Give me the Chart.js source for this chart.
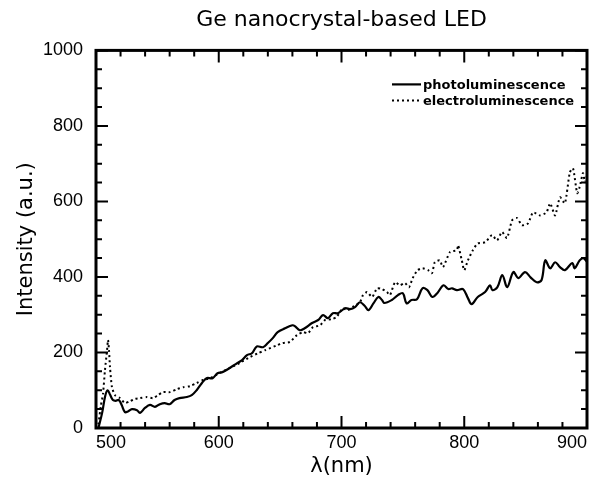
<!DOCTYPE html>
<html>
<head>
<meta charset="utf-8">
<script src="https://cdn.jsdelivr.net/npm/chart.js@4/dist/chart.umd.min.js"></script>
<style>
  html, body { margin: 0; padding: 0; background: #fff; }
</style>
</head>
<body>
<canvas id="ledChart" width="592" height="479"></canvas>
<script>
// wavelength (nm) / intensity (a.u.)
const plWavelength = [502, 505, 507.5, 509.5, 511.5, 513.8, 516, 518.7, 521, 523.6, 526, 529.3, 533.4, 535.8, 539.9, 544, 548, 552, 556, 560, 564, 568, 574, 578, 582, 586, 590, 595, 599, 603, 609, 615, 619, 623, 627, 631, 636, 640, 644, 648, 654, 660, 662, 666, 670, 676, 681, 685, 689, 693, 697, 703, 707, 711, 715, 719, 722, 726, 730, 733, 735, 741, 746, 750, 753, 757, 761.5, 766, 770, 774, 778, 783, 787, 790, 794, 799, 803, 806, 811, 817, 821, 823, 827, 831, 835, 840, 844, 849.5, 854, 859, 863, 866, 870, 874, 878, 882, 888, 890, 894, 897, 900]
const plIntensity  = [0, 40, 85, 100, 88, 74, 72, 74, 60, 42, 44, 50, 47, 40, 53, 61, 56, 63, 66, 63, 74, 79, 82, 87, 100, 118, 132, 132, 145, 148, 159, 172, 180, 193, 198, 216, 214, 225, 238, 254, 264, 272, 270, 259, 264, 278, 286, 299, 291, 304, 304, 317, 315, 320, 333, 323, 312, 330, 347, 339, 331, 339, 352, 357, 330, 339, 341, 370, 365, 347, 357, 378, 368, 370, 365, 368, 344, 328, 347, 360, 378, 365, 373, 405, 373, 413, 397, 413, 399, 386, 392, 444, 423, 439, 426, 418, 437, 423, 444, 450, 440]

const elWavelength = [502, 504, 505.7, 507.3, 509, 509.8, 510.6, 511.4, 513, 515.5, 519.6, 523.6, 527.7, 531.8, 535.8, 541.5, 546.4, 550.5, 554.6, 560.3, 566, 571, 576.6, 582, 587, 593, 601, 609, 617, 625.5, 632, 637.7, 647.5, 652, 658, 663.7, 668.6, 672.7, 676.8, 682.5, 686.6, 692, 696, 701, 705, 709, 715, 717.5, 720.8, 725, 729, 733, 737, 739.5, 743.6, 747.6, 751.7, 755, 758, 762, 766, 770.5, 773.7, 776, 780, 782.7, 788.4, 794, 795, 798, 800, 803, 807, 811, 817, 822.6, 826.7, 830.8, 834.8, 839, 843, 847, 852, 856, 861.7, 867, 870, 874, 878, 882, 886, 888.6, 892, 894, 896.7, 898.4, 900]
const elIntensity  = [10, 60, 90, 153, 206, 233, 206, 161, 108, 87, 79, 66, 71, 77, 79, 82, 79, 87, 95, 95, 103, 108, 111, 119, 127, 132, 146, 159, 172, 188, 198, 206, 219, 225, 228, 246, 254, 251, 267, 272, 286, 288, 294, 317, 312, 320, 333, 352, 360, 347, 370, 368, 360, 352, 386, 378, 384, 373, 397, 418, 423, 418, 410, 439, 444, 426, 466, 471, 484, 444, 418, 444, 471, 489, 492, 511, 497, 519, 503, 550, 556, 537, 542, 571, 563, 571, 595, 563, 611, 595, 677, 688, 622, 638, 675, 651, 668]

const xMin = 500, xMax = 900, xMinorStep = 20, xMajorStep = 100
const yMin = 0, yMax = 1000, yMinorStep = 50, yMajorStep = 200

const toPoints = (xs, ys) => xs.map((v, i) => ({ x: v, y: ys[i] }))

// inward ticks on all four sides, the heavy frame and the legend
const frameTicks = {
  id: 'frameTicks',
  afterDatasetsDraw(chart) {
    const { ctx, chartArea: a, scales: { x, y } } = chart
    ctx.save()
    ctx.strokeStyle = '#000'
    ctx.lineWidth = 2
    ctx.beginPath()
    for (let v = xMin; v <= xMax; v += xMinorStep) {
      const px = x.getPixelForValue(v)
      const len = v % xMajorStep === 0 ? 12 : 6
      ctx.moveTo(px, a.bottom); ctx.lineTo(px, a.bottom - len)
      ctx.moveTo(px, a.top); ctx.lineTo(px, a.top + len)
    }
    for (let v = yMin; v <= yMax; v += yMinorStep) {
      const py = y.getPixelForValue(v)
      const len = v % yMajorStep === 0 ? 12 : 6
      ctx.moveTo(a.left, py); ctx.lineTo(a.left + len, py)
      ctx.moveTo(a.right, py); ctx.lineTo(a.right - len, py)
    }
    ctx.stroke()
    ctx.lineWidth = 3
    ctx.strokeRect(a.left, a.top, a.right - a.left, a.bottom - a.top)

    // legend
    ctx.font = 'bold 13px "DejaVu Sans"'
    ctx.textBaseline = 'middle'
    ctx.fillStyle = '#000'
    chart.data.datasets.forEach((ds, i) => {
      const ly = a.top + 34 + i * 16
      const lx = a.right - 195
      ctx.lineWidth = ds.borderWidth
      ctx.setLineDash(ds.borderDash || [])
      ctx.beginPath()
      ctx.moveTo(lx, ly); ctx.lineTo(lx + 29, ly)
      ctx.stroke()
      ctx.setLineDash([])
      ctx.fillText(ds.label, lx + 31, ly + 1)
    })
    ctx.restore()
  }
}

new Chart(document.getElementById('ledChart'), {
  type: 'line',
  data: {
    datasets: [
      {
        label: 'photoluminescence',
        data: toPoints(plWavelength, plIntensity),
        borderColor: '#000',
        borderWidth: 2.2,
        pointRadius: 0,
        tension: 0.35
      },
      {
        label: 'electroluminescence',
        data: toPoints(elWavelength, elIntensity),
        borderColor: '#000',
        borderWidth: 2,
        borderDash: [2, 3],
        pointRadius: 0,
        tension: 0.2
      }
    ]
  },
  options: {
    responsive: false,
    animation: false,
    layout: { padding: { left: 0, right: 5, top: 0, bottom: 0 } },
    plugins: {
      legend: { display: false },
      tooltip: { enabled: false },
      title: {
        display: true,
        text: 'Ge nanocrystal-based LED',
        fullSize: false,
        color: '#000',
        font: { family: 'DejaVu Sans', size: 22, weight: 'normal' },
        padding: { top: 7, bottom: 17 }
      }
    },
    scales: {
      x: {
        type: 'linear',
        min: xMin,
        max: xMax,
        grid: { display: false, drawTicks: false },
        border: { display: false },
        ticks: {
          stepSize: xMajorStep,
          align: 'inner',
          padding: 4,
          color: '#000',
          font: { family: 'Liberation Sans', size: 18 },
          callback: v => String(v)
        },
        title: {
          display: true,
          text: 'λ(nm)',
          color: '#000',
          font: { family: 'DejaVu Sans', size: 21 },
          padding: { top: 0, bottom: 0 }
        },
        afterFit(scale) { scale.height = 51 }
      },
      y: {
        min: yMin,
        max: yMax,
        grid: { display: false, drawTicks: false },
        border: { display: false },
        ticks: {
          stepSize: yMajorStep,
          padding: 13,
          color: '#000',
          font: { family: 'Liberation Sans', size: 18 },
          callback: v => String(v)
        },
        title: {
          display: true,
          text: 'Intensity (a.u.)',
          color: '#000',
          font: { family: 'DejaVu Sans', size: 21 },
          padding: { top: 14, bottom: 0 }
        },
        afterFit(scale) { scale.width = 96 }
      }
    }
  },
  plugins: [frameTicks]
})
</script>
</body>
</html>
